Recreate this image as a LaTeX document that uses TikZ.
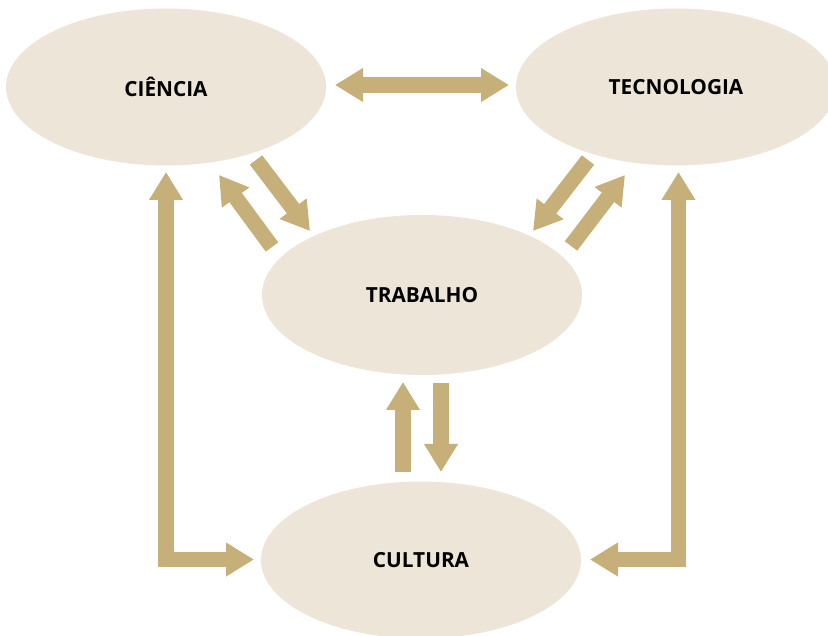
\documentclass[tikz,border=0pt]{standalone}
\usepackage{fontspec}
\setmainfont{Open Sans}
\usetikzlibrary{arrows.meta,shapes.geometric}
\definecolor{bege}{HTML}{EDE5D7}
\definecolor{ouro}{HTML}{C6AF78}

\begin{document}
\begin{tikzpicture}[x=1pt,y=-1pt,
	elipse/.style={ellipse, fill=bege, minimum width=320pt, minimum height=157pt,
		inner sep=0pt, font=\fontsize{20.8}{24}\selectfont\bfseries},
	seta/.style={draw=ouro, line width=15.5pt, line join=miter,
		-{Triangle[length=28pt,width=32pt]}},
	seta2/.style={seta, {Triangle[length=28pt,width=32pt]}-{Triangle[length=28pt,width=32pt]}}]
	\useasboundingbox (0,0) rectangle (828,636);
	\begin{scope}
		\clip (0,0) rectangle (828,636);
		\node[elipse] (ciencia) at (166,87) {CIÊNCIA};
		\node[elipse] (tecnologia) at (676,87) {TECNOLOGIA};
		\node[elipse, minimum height=160pt] (trabalho) at (422,295) {TRABALHO};
		\node[elipse] (cultura) at (421,560) {CULTURA};
	\end{scope}
	% pontos das setas
	\coordinate (h1) at (335,85);
	\coordinate (h2) at (509,85);
	\coordinate (e1) at (256,160);
	\coordinate (e2) at (310,231);
	\coordinate (e3) at (272,247);
	\coordinate (e4) at (219,175);
	\coordinate (d1) at (588,160);
	\coordinate (d2) at (533,231);
	\coordinate (d3) at (571,246);
	\coordinate (d4) at (625,175);
	\coordinate (v1) at (403,472);
	\coordinate (v2) at (403,382);
	\coordinate (v3) at (441,383);
	\coordinate (v4) at (441,472);
	\coordinate (l1) at (166,172);
	\coordinate (l2) at (166,559.5);
	\coordinate (l3) at (254,559.5);
	\coordinate (r1) at (678.5,172);
	\coordinate (r2) at (678.5,559.5);
	\coordinate (r3) at (590,559.5);
	\draw[seta2] (h1) -- (h2);
	\draw[seta] (e1) -- (e2);
	\draw[seta] (e3) -- (e4);
	\draw[seta] (d1) -- (d2);
	\draw[seta] (d3) -- (d4);
	\draw[seta] (v1) -- (v2);
	\draw[seta] (v3) -- (v4);
	\draw[seta2] (l1) -- (l2) -- (l3);
	\draw[seta2] (r1) -- (r2) -- (r3);
\end{tikzpicture}
\end{document}
